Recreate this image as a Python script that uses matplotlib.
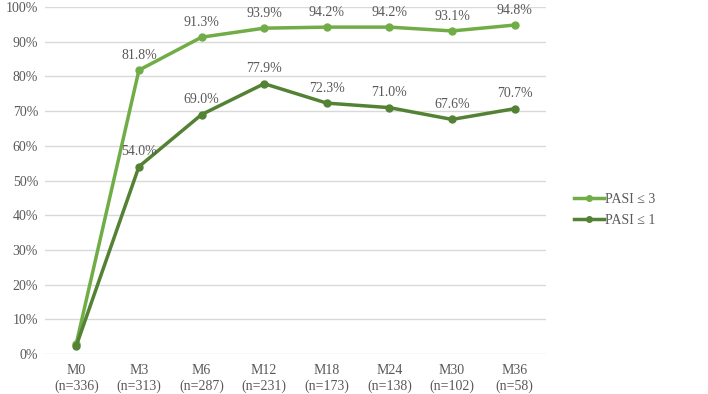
import matplotlib.pyplot as plt
from matplotlib.ticker import FuncFormatter

months = ['M0', 'M3', 'M6', 'M12', 'M18', 'M24', 'M30', 'M36']
n_pat = [336, 313, 287, 231, 173, 138, 102, 58]
pasi3 = [3.0, 81.8, 91.3, 93.9, 94.2, 94.2, 93.1, 94.8]
pasi1 = [2.4, 54.0, 69.0, 77.9, 72.3, 71.0, 67.6, 70.7]

light = '#70AD47'
dark = '#548235'
txt = '#595959'

plt.rcParams['font.family'] = ['Liberation Serif', 'DejaVu Serif']

fig = plt.figure(figsize=(7.08, 3.94), dpi=100)
ax = fig.add_axes([45 / 708, 1 - 354 / 394, 501 / 708, 347 / 394])

x = list(range(len(months)))
ax.plot(x, pasi3, color=light, lw=2.5, marker='o', ms=5, label='PASI ≤ 3', zorder=3)
ax.plot(x, pasi1, color=dark, lw=2.5, marker='o', ms=5, label='PASI ≤ 1', zorder=3)

for i in x[1:]:
    ax.annotate(f'{pasi3[i]:.1f}%', (i, pasi3[i]), xytext=(0, 6), textcoords='offset points',
                ha='center', va='bottom', fontsize=10, color=txt)
    ax.annotate(f'{pasi1[i]:.1f}%', (i, pasi1[i]), xytext=(0, 6), textcoords='offset points',
                ha='center', va='bottom', fontsize=10, color=txt)

ax.set_xlim(-0.5, len(months) - 0.5)
ax.set_ylim(0, 100)
ax.set_yticks(range(0, 101, 10))
ax.yaxis.set_major_formatter(FuncFormatter(lambda v, p: f'{v:.0f}%'))
ax.set_xticks(x)
ax.set_xticklabels([f'{m}\n(n={n})' for m, n in zip(months, n_pat)])
ax.grid(axis='y', color='#D9D9D9', lw=1)
ax.set_axisbelow(True)
for s in ax.spines.values():
    s.set_visible(False)
ax.tick_params(length=0, labelsize=10, colors=txt, pad=5)
ax.tick_params(axis='x', pad=7.5)

ax.legend(loc='center left', bbox_to_anchor=(1.03, 0.415), frameon=False,
          fontsize=10, labelcolor=txt, handlelength=2.2, handletextpad=0.1,
          labelspacing=0.6, markerscale=0.8)

fig.savefig('out.png', dpi=100)
